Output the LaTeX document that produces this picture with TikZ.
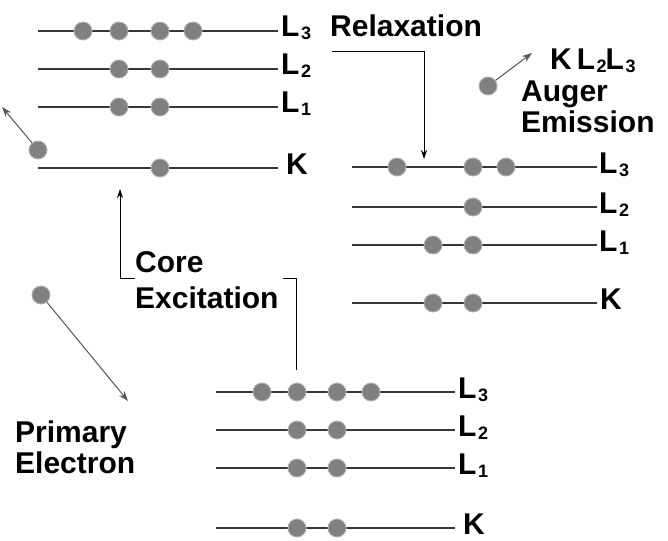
\documentclass[tikz,border=0pt]{standalone}
\usepackage{fontspec}
\setmainfont{Liberation Sans}
\usetikzlibrary{arrows.meta}

\definecolor{dotfill}{RGB}{128,128,128}
\definecolor{dotrim}{RGB}{175,175,175}
\definecolor{linegray}{RGB}{55,55,55}
\definecolor{trackgray}{RGB}{85,85,85}

% shell name with a lowered index
\newcommand{\lvl}[1]{L\kern1.5pt\raisebox{-3pt}{\fontsize{18}{18}\selectfont #1}}

\tikzset{
    level/.style={draw=linegray, line width=1.2pt},
    electron/.style={circle, fill=dotfill, draw=dotrim, line width=0.9pt, minimum size=18pt, inner sep=0pt},
    shell/.style={anchor=base west, inner sep=0pt, font=\fontsize{30}{30}\selectfont\bfseries},
    caption/.style={anchor=base west, inner sep=0pt, align=left, font=\fontsize{30}{31}\selectfont\bfseries},
    track/.style={-{Stealth[length=10pt,width=7pt]}, draw=trackgray, line width=1pt},
    process/.style={-{Stealth[length=9pt,width=6pt]}, draw=black, line width=1pt},
    bracket/.style={draw=black, line width=1pt}
}

\begin{document}
\begin{tikzpicture}[x=1pt, y=-1pt]
    \useasboundingbox (0,0) rectangle (668,540);

    % excited atom (top left)
    \foreach \lv/\y/\dx/\txt in {L3/31/0/\lvl{3}, L2/69/0/\lvl{2}, L1/107/0/\lvl{1}, K/168/5/K} {
        \coordinate (exc\lv w) at (38,\y);
        \coordinate (exc\lv e) at (278,\y);
        \draw[level] (exc\lv w) -- (exc\lv e);
        \node[shell] (exc\lv lab) at (281+\dx,\y+6) {\txt};
    }
    \foreach \x [count=\i] in {83,119,160,193}
        \node[electron] (excLthree\i) at (\x,31) {};
    \foreach \x [count=\i] in {119,160} {
        \node[electron] (excLtwo\i) at (\x,69) {};
        \node[electron] (excLone\i) at (\x,107) {};
    }
    \node[electron] (excK1) at (160,168) {};
    \node[electron] (excOut) at (38,150) {};
    \coordinate (excOutEnd) at (2,107);
    \draw[track] (excOut) -- (excOutEnd);

    % relaxed atom (right)
    \foreach \lv/\y/\dx/\txt in {L3/167/0/\lvl{3}, L2/207/0/\lvl{2}, L1/245/0/\lvl{1}, K/303/1/K} {
        \coordinate (aug\lv w) at (352,\y);
        \coordinate (aug\lv e) at (597,\y);
        \draw[level] (aug\lv w) -- (aug\lv e);
        \node[shell] (aug\lv lab) at (599+\dx,\y+6) {\txt};
    }
    \foreach \x [count=\i] in {397,473,506}
        \node[electron] (augLthree\i) at (\x,167) {};
    \node[electron] (augLtwo1) at (473,207) {};
    \foreach \x [count=\i] in {433,473} {
        \node[electron] (augLone\i) at (\x,245) {};
        \node[electron] (augK\i) at (\x,303) {};
    }
    \node[electron] (auger) at (488,86) {};
    \coordinate (augerEnd) at (532,53);
    \draw[track] (auger) -- (augerEnd);

    % ground state atom (bottom)
    \foreach \lv/\y/\dx/\txt in {L3/392/0/\lvl{3}, L2/430/0/\lvl{2}, L1/468/0/\lvl{1}, K/528/5/K} {
        \coordinate (gnd\lv w) at (216,\y);
        \coordinate (gnd\lv e) at (455,\y);
        \draw[level] (gnd\lv w) -- (gnd\lv e);
        \node[shell] (gnd\lv lab) at (458+\dx,\y+6) {\txt};
    }
    \foreach \x [count=\i] in {262,297,337,371}
        \node[electron] (gndLthree\i) at (\x,392) {};
    \foreach \x [count=\i] in {297,337} {
        \node[electron] (gndLtwo\i) at (\x,430) {};
        \node[electron] (gndLone\i) at (\x,468) {};
        \node[electron] (gndK\i) at (\x,528) {};
    }

    % primary electron
    \node[electron] (primary) at (41,295) {};
    \coordinate (primaryEnd) at (128,401);
    \draw[track] (primary) -- (primaryEnd);
    \node[caption] (primaryLab) at (15,473) {Primary\\Electron};

    % core excitation
    \coordinate (coreStart) at (296,370);
    \coordinate (coreRight) at (283,278);
    \coordinate (coreLeft) at (135,278);
    \coordinate (coreEnd) at (120,189);
    \draw[bracket] (coreStart) |- (coreRight);
    \draw[process] (coreLeft) -| (coreEnd);
    \node[caption] (coreLab) at (135,308) {Core\\[5pt]Excitation};

    % relaxation
    \coordinate (relaxStart) at (332,52);
    \coordinate (relaxEnd) at (424,159);
    \draw[process] (relaxStart) -| (relaxEnd);
    \node[caption] (relaxLab) at (330,37) {Relaxation};

    % Auger emission
    \node[shell] (augerName) at (550,70) {K\,\lvl{2}\kern-1pt\lvl{3}};
    \node[caption] (augerLab) at (521,133) {Auger\\Emission};
\end{tikzpicture}
\end{document}
